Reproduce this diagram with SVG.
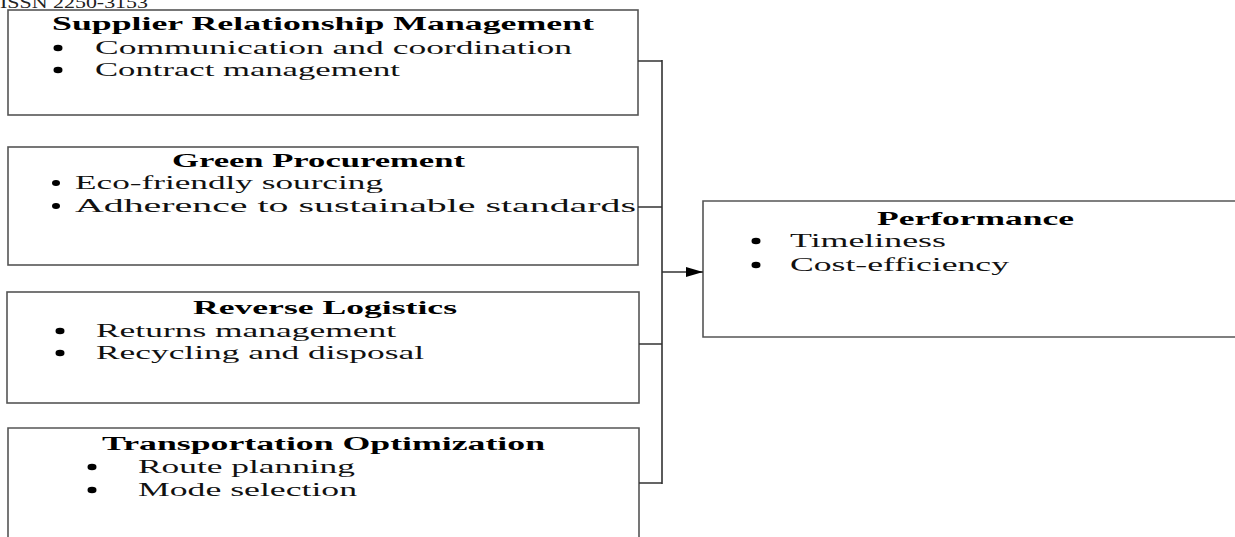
<svg xmlns="http://www.w3.org/2000/svg" width="1235" height="537" viewBox="0 0 1235 537">
<defs>
<style>
.box{fill:#fff;stroke:#555;stroke-width:1.6}
.t{font-family:"Liberation Serif","Times New Roman",serif;font-size:18px;font-weight:bold;fill:#000}
.b{font-family:"Liberation Serif","Times New Roman",serif;font-size:19px;fill:#111}
.dot{fill:#000}
.ln{stroke:#333;stroke-width:1.6;fill:none}
</style>
<marker id="ah" markerWidth="18" markerHeight="10" refX="17" refY="5" orient="auto" markerUnits="userSpaceOnUse">
<path d="M0,0 L17,5 L0,10 Z" fill="#000"/>
</marker>
</defs>
<rect width="1235" height="537" fill="#fff"/>
<text x="0" y="8" font-family="Liberation Serif, serif" font-size="16" fill="#222" textLength="148" lengthAdjust="spacingAndGlyphs">ISSN 2250-3153</text>

<g id="srm">
<rect class="box" x="8" y="10" width="630" height="105"/>
<text class="t" x="52" y="30" textLength="542" lengthAdjust="spacingAndGlyphs">Supplier Relationship Management</text>
<ellipse class="dot" cx="58" cy="48" rx="4.5" ry="3.2"/>
<text class="b" x="95" y="54" textLength="477" lengthAdjust="spacingAndGlyphs">Communication and coordination</text>
<ellipse class="dot" cx="58" cy="70" rx="4.5" ry="3.2"/>
<text class="b" x="95" y="76" textLength="305" lengthAdjust="spacingAndGlyphs">Contract management</text>
</g>

<g id="gp">
<rect class="box" x="8" y="147" width="630" height="118"/>
<text class="t" x="172" y="167" textLength="293" lengthAdjust="spacingAndGlyphs">Green Procurement</text>
<ellipse class="dot" cx="56" cy="183" rx="4" ry="3"/>
<text class="b" x="75" y="189" textLength="308" lengthAdjust="spacingAndGlyphs">Eco-friendly sourcing</text>
<ellipse class="dot" cx="56" cy="206" rx="4" ry="3"/>
<text class="b" x="75" y="212" textLength="561" lengthAdjust="spacingAndGlyphs">Adherence to sustainable standards</text>
</g>

<g id="rl">
<rect class="box" x="7" y="292" width="632" height="111"/>
<text class="t" x="193" y="314" textLength="264" lengthAdjust="spacingAndGlyphs">Reverse Logistics</text>
<ellipse class="dot" cx="60" cy="331" rx="4.5" ry="3.2"/>
<text class="b" x="96" y="337" textLength="300" lengthAdjust="spacingAndGlyphs">Returns management</text>
<ellipse class="dot" cx="60" cy="353" rx="4.5" ry="3.2"/>
<text class="b" x="96" y="359" textLength="328" lengthAdjust="spacingAndGlyphs">Recycling and disposal</text>
</g>

<g id="to">
<path class="box" d="M8,540 L8,428 L639,428 L639,540"/>
<text class="t" x="102" y="450" textLength="443" lengthAdjust="spacingAndGlyphs">Transportation Optimization</text>
<ellipse class="dot" cx="92" cy="467" rx="4.5" ry="3.2"/>
<text class="b" x="138" y="473" textLength="217" lengthAdjust="spacingAndGlyphs">Route planning</text>
<ellipse class="dot" cx="92" cy="490" rx="4.5" ry="3.2"/>
<text class="b" x="138" y="496" textLength="219" lengthAdjust="spacingAndGlyphs">Mode selection</text>
</g>

<g id="perf">
<path class="box" d="M1240,201 L703,201 L703,337 L1240,337"/>
<text class="t" x="877" y="225" textLength="197" lengthAdjust="spacingAndGlyphs">Performance</text>
<ellipse class="dot" cx="756" cy="241" rx="4.5" ry="3.2"/>
<text class="b" x="790" y="247" textLength="156" lengthAdjust="spacingAndGlyphs">Timeliness</text>
<ellipse class="dot" cx="756" cy="265" rx="4.5" ry="3.2"/>
<text class="b" x="790" y="271" textLength="219" lengthAdjust="spacingAndGlyphs">Cost-efficiency</text>
</g>

<g id="connectors">
<path class="ln" d="M638,61 H662 M638,207 H662 M639,344 H662 M639,483 H662 M662,60 V484"/>
<path class="ln" d="M662,272 H703" marker-end="url(#ah)"/>
</g>
</svg>
